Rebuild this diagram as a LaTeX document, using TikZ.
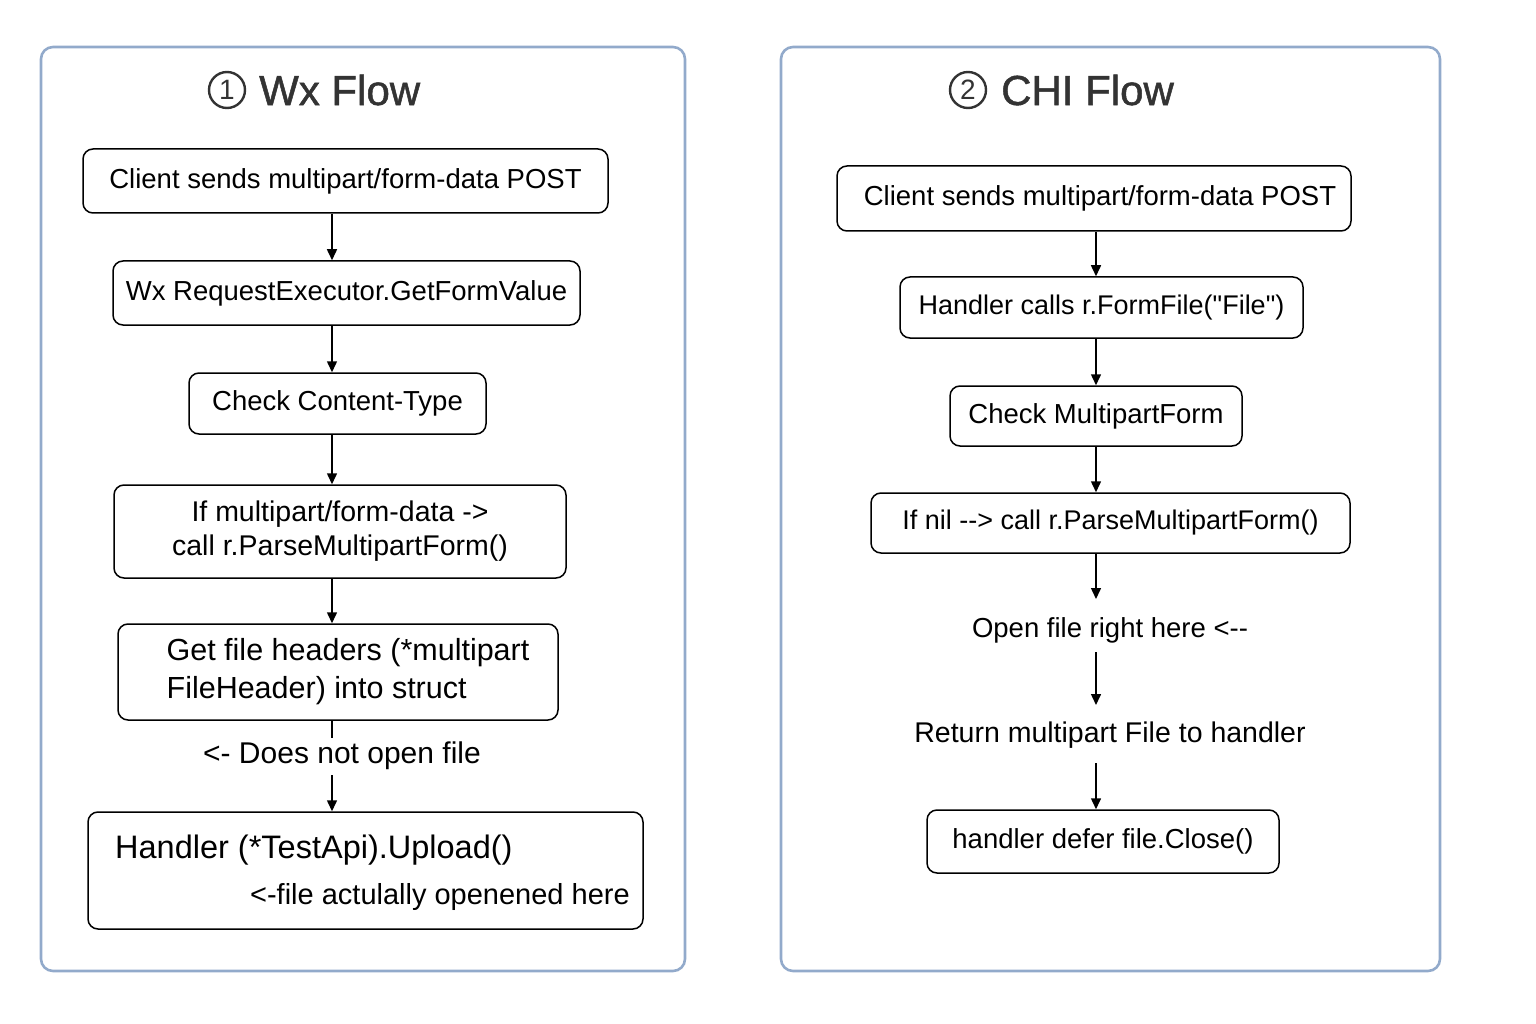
\documentclass[tikz,border=0pt]{standalone}
\usepackage{fontspec}
\defaultfontfeatures[\rmfamily,\sffamily]{}
\defaultfontfeatures{}
\setmainfont{Liberation Sans}[Ligatures=ResetAll]
\newfontfamily\titlefont{Liberation Sans}[FakeBold=1.2]
\usetikzlibrary{arrows.meta,calc}
\definecolor{panelc}{HTML}{92AACB}
\definecolor{titlec}{HTML}{333333}
\tikzset{
  panel/.style={draw=panelc, line width=2.6pt, rounded corners=12pt},
  fbox/.style={draw=black, line width=1.5pt, rounded corners=10pt, inner sep=0pt, font=\fontsize{27.5}{34}\selectfont, align=center},
  lbl/.style={inner sep=0pt, font=\fontsize{27.5}{32}\selectfont},
  arr/.style={line width=1.5pt, -{Triangle[length=11pt,width=10pt]}},
  seg/.style={line width=1.5pt},
  ttl/.style={inner sep=0pt, font=\titlefont\fontsize{42}{46}\selectfont, text=titlec},
  circ/.style={draw=titlec, circle, line width=2.4pt, minimum size=36pt, inner sep=0pt, font=\fontsize{28}{30}\selectfont, text=titlec},
}
\begin{document}
\begin{tikzpicture}[x=1pt,y=-1pt]
\useasboundingbox (0,0) rectangle (1536,1024);
% panels
\draw[panel] (41,47) rectangle (685,971);
\draw[panel] (781,47) rectangle (1440,971);
% titles
\node[circ] (c1) at (227,90) {1};
\node[ttl, anchor=west] (t1) at (259,90) {Wx Flow};
\node[circ] (c2) at (968,90) {2};
\node[ttl, anchor=west] (t2) at (1001,90) {CHI Flow};
% column coordinates
\coordinate (colL) at (332,0);
\coordinate (colR) at (1096,0);
% left flow
\node[fbox, minimum width=525pt, minimum height=64pt] (l1) at (345.5,181) {Client sends multipart/form-data POST};
\node[fbox, minimum width=467pt, minimum height=64pt] (l2) at (346.5,293) {Wx RequestExecutor.GetFormValue};
\node[fbox, minimum width=297pt, minimum height=61pt] (l3) at (337.5,403.5) {Check Content-Type};
\node[fbox, minimum width=452pt, minimum height=93pt, font=\fontsize{28.5}{34}\selectfont] (l4) at (340,531.5) {If multipart/form-data ->\\call r.ParseMultipartForm()};
\node[fbox, minimum width=440pt, minimum height=96pt, align=left, font=\fontsize{30.5}{38}\selectfont] (l5) at (338,672) {\hspace*{20pt}Get file headers (*multipart\\\hspace*{20pt}FileHeader) into struct};
\node[lbl, font=\fontsize{30}{32}\selectfont] (l6) at (342,756) {<- Does not open file};
\node[fbox, minimum width=555pt, minimum height=117pt] (l7) at (365.5,870.5) {};
\node[lbl, anchor=west, font=\fontsize{32.5}{36}\selectfont] (l7a) at (115,850) {Handler (*TestApi).Upload()};
\node[lbl, anchor=east, font=\fontsize{29}{32}\selectfont] (l7b) at (630,897) {<-file actulally openened here};
\draw[arr] (l1.south -| colL) -- (l2.north -| colL);
\draw[arr] (l2.south -| colL) -- (l3.north -| colL);
\draw[arr] (l3.south -| colL) -- (l4.north -| colL);
\draw[arr] (l4.south -| colL) -- (l5.north -| colL);
\draw[seg] (l5.south -| colL) -- (332,738);
\draw[arr] (332,775) -- (l7.north -| colL);
% right flow
\node[fbox, minimum width=514pt, minimum height=65pt] (r1) at (1094,198.5) {\hspace*{12pt}Client sends multipart/form-data POST};
\node[fbox, minimum width=403pt, minimum height=61pt, font=\fontsize{27}{32}\selectfont] (r2) at (1101.5,307.5) {Handler calls r.FormFile("File")};
\node[fbox, minimum width=292pt, minimum height=60pt] (r3) at (1096,416) {Check MultipartForm};
\node[fbox, minimum width=479pt, minimum height=60pt, font=\fontsize{27}{32}\selectfont] (r4) at (1110.5,523) {If nil --> call r.ParseMultipartForm()};
\node[lbl] (r5) at (1110,630) {Open file right here <--};
\node[lbl, font=\fontsize{28.5}{32}\selectfont] (r6) at (1110,735) {Return multipart File to handler};
\node[fbox, minimum width=352pt, minimum height=63pt] (r7) at (1103,841.5) {handler defer file.Close()};
\draw[arr] (r1.south -| colR) -- (r2.north -| colR);
\draw[arr] (r2.south -| colR) -- (r3.north -| colR);
\draw[arr] (r3.south -| colR) -- (r4.north -| colR);
\draw[arr] (r4.south -| colR) -- (1096,599);
\draw[arr] (1096,652) -- (1096,705);
\draw[arr] (1096,763) -- (r7.north -| colR);
\end{tikzpicture}
\end{document}
